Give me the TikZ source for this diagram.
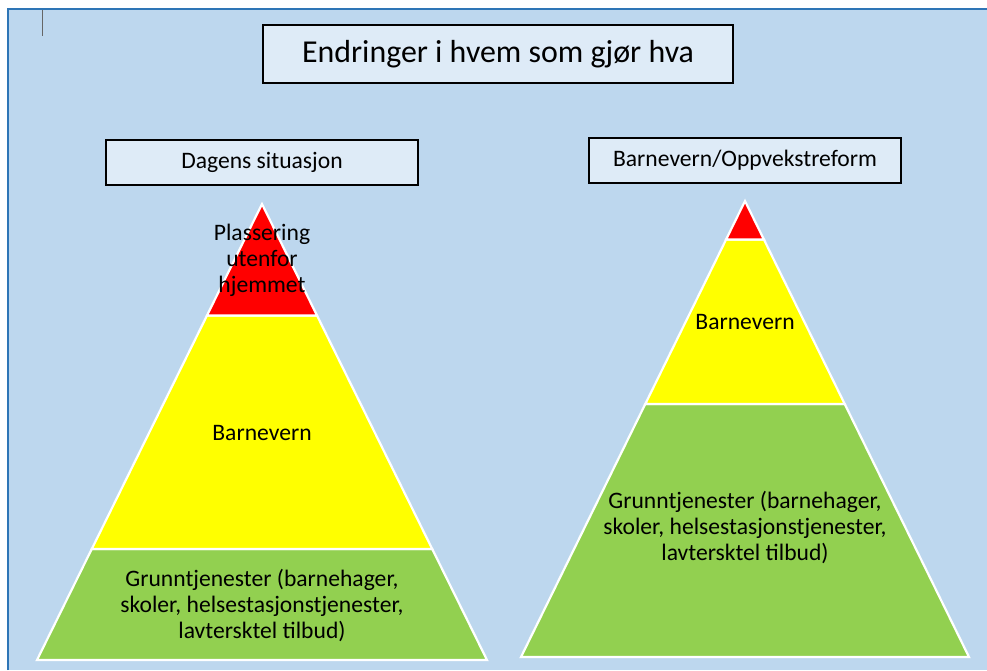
\documentclass[tikz,border=0pt]{standalone}
\usepackage{fontspec}
\setmainfont{Carlito}
\usetikzlibrary{calc}
\definecolor{bg}{HTML}{BDD7EE}
\definecolor{boxfill}{HTML}{DEEBF7}
\definecolor{framecol}{HTML}{2E75B6}
\definecolor{lvred}{HTML}{FF0000}
\definecolor{lvyellow}{HTML}{FFFF00}
\definecolor{lvgreen}{HTML}{92D050}
\tikzset{
  hbox/.style={draw=black, line width=2pt, fill=boxfill, inner sep=0pt},
  layer/.style={draw=white, line width=2.2pt, line join=miter},
  ltext/.style={align=center, font=\fontsize{23.6}{26}\selectfont, inner sep=0pt, text=black},
}
\begin{document}
\begin{tikzpicture}[x=1pt,y=-1pt]
\useasboundingbox (0,0) rectangle (987,670);
\fill[white] (0,0) rectangle (987,670);
\fill[bg] (8,9) rectangle (987,670);
\draw[framecol, line width=2pt] (8,670) -- (8,9) -- (987,9);
\draw[black!60, line width=1pt] (42,10) -- (42,36);

% header boxes
\node[hbox, minimum width=470, minimum height=58, font=\fontsize{31.9}{36}\selectfont] (title) at (498,54) {Endringer i hvem som gjør hva};
\node[hbox, minimum width=312, minimum height=45, font=\fontsize{23.6}{26}\selectfont] (dagens) at (262,162) {Dagens situasjon};
\node[hbox, minimum width=312, minimum height=45, font=\fontsize{23.6}{26}\selectfont] (reform) at (745,160) {Barnevern/Oppvekstreform};

% left pyramid
\coordinate (LA) at (262,204);
\coordinate (LL) at (37,660);
\coordinate (LR) at (487,660);
\coordinate (L1l) at ($(LA)!0.2445!(LL)$);
\coordinate (L1r) at ($(LA)!0.2445!(LR)$);
\coordinate (L2l) at ($(LA)!0.7566!(LL)$);
\coordinate (L2r) at ($(LA)!0.7566!(LR)$);
\draw[layer, fill=lvgreen] (L2l) -- (L2r) -- (LR) -- (LL) -- cycle;
\draw[layer, fill=lvyellow] (L1l) -- (L1r) -- (L2r) -- (L2l) -- cycle;
\draw[layer, fill=lvred] (LA) -- (L1r) -- (L1l) -- cycle;

% right pyramid
\coordinate (RA) at (745,201);
\coordinate (RL) at (521,657);
\coordinate (RR) at (969,657);
\coordinate (R1l) at ($(RA)!0.0844!(RL)$);
\coordinate (R1r) at ($(RA)!0.0844!(RR)$);
\coordinate (R2l) at ($(RA)!0.445!(RL)$);
\coordinate (R2r) at ($(RA)!0.445!(RR)$);
\draw[layer, fill=lvgreen] (R2l) -- (R2r) -- (RR) -- (RL) -- cycle;
\draw[layer, fill=lvyellow] (R1l) -- (R1r) -- (R2r) -- (R2l) -- cycle;
\draw[layer, fill=lvred] (RA) -- (R1r) -- (R1l) -- cycle;

% texts
\node[ltext] (lred) at (262,260) {Plassering\\utenfor\\hjemmet};
\node[ltext] (lyel) at (262,433) {Barnevern};
\node[ltext] (lgrn) at (262,605) {Grunntjenester (barnehager,\\skoler, helsestasjonstjenester,\\lavtersktel tilbud)};
\node[ltext] (ryel) at (745,322) {Barnevern};
\node[ltext] (rgrn) at (745,527) {Grunntjenester (barnehager,\\skoler, helsestasjonstjenester,\\lavtersktel tilbud)};
\end{tikzpicture}
\end{document}
